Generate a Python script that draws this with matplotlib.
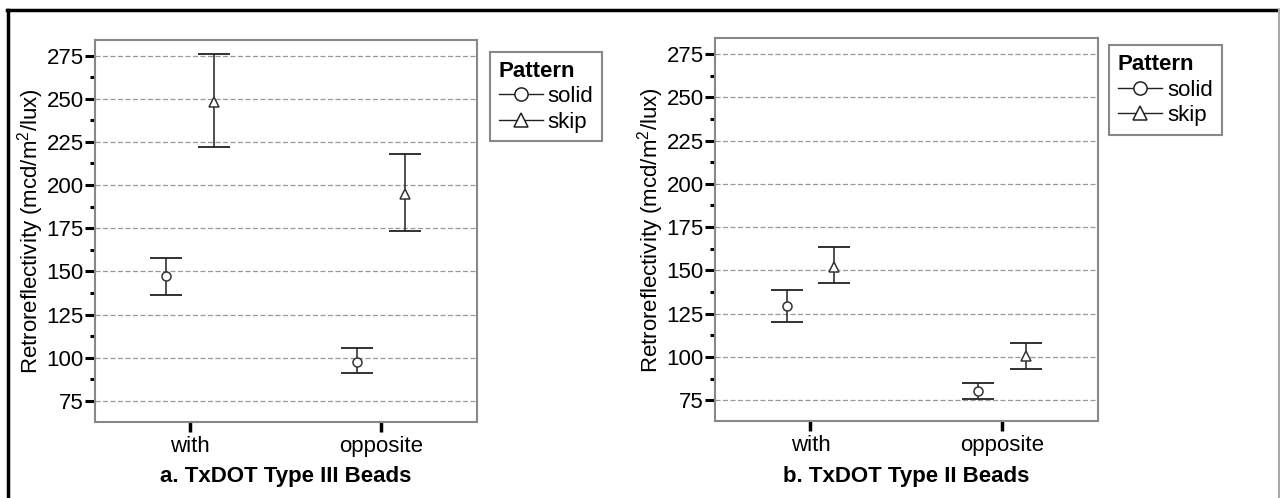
import matplotlib
matplotlib.use('Agg')
import matplotlib.pyplot as plt
import numpy as np
from matplotlib.lines import Line2D
from matplotlib.ticker import MultipleLocator

plt.rcParams['font.family'] = ['Liberation Sans', 'DejaVu Sans']
plt.rcParams['mathtext.fontset'] = 'custom'
plt.rcParams['mathtext.rm'] = 'Liberation Sans'
plt.rcParams['mathtext.default'] = 'regular'

categories = ['with', 'opposite']
patterns = ['solid', 'skip']

# panel a: TxDOT Type III beads (mean, lower, upper)
a_solid_mean = [147.1, 97.8]
a_solid_lo = [136.5, 91.3]
a_solid_hi = [157.8, 105.8]
a_skip_mean = [248.3, 194.8]
a_skip_lo = [221.8, 173.4]
a_skip_hi = [275.8, 217.9]

# panel b: TxDOT Type II beads
b_solid_mean = [129.5, 80.4]
b_solid_lo = [120.3, 75.7]
b_solid_hi = [138.8, 85.0]
b_skip_mean = [152.1, 100.4]
b_skip_lo = [142.5, 93.3]
b_skip_hi = [163.3, 108.1]

panels = [
    ('a. TxDOT Type III Beads',
     [(a_solid_mean, a_solid_lo, a_solid_hi), (a_skip_mean, a_skip_lo, a_skip_hi)],
     [0.074, 0.1532, 0.2984, 0.7665], (1.035, 0.969)),
    ('b. TxDOT Type II Beads',
     [(b_solid_mean, b_solid_lo, b_solid_hi), (b_skip_mean, b_skip_lo, b_skip_hi)],
     [0.5584, 0.1546, 0.2991, 0.7684], (1.03, 0.982)),
]
markers = ['o', '^']
offsets = [-0.125, 0.125]
fs = 16

fig = plt.figure(figsize=(12.8, 4.98), dpi=100)

for title, series, rect, leg_pos in panels:
    ax = fig.add_axes(rect)
    x = np.arange(len(categories))
    handles = []
    for (mean, lo, hi), m, off, name in zip(series, markers, offsets, patterns):
        mean = np.array(mean)
        err = [mean - np.array(lo), np.array(hi) - mean]
        ax.errorbar(x + off, mean, yerr=err, fmt='none', ecolor='#222222',
                    elinewidth=1.1, capsize=11.5, capthick=1.3, zorder=3)
        ax.plot(x + off, mean, linestyle='none', marker=m, ms=6.5 if m == 'o' else 7,
                mfc='white', mec='#333333', mew=1.1, zorder=4)
        handles.append(Line2D([], [], color='#222222', lw=1, marker=m, ms=9.5,
                              mfc='white', mec='#222222', mew=1.1, label=name))
    ax.set_xlim(-0.5, 1.5)
    ax.set_ylim(63, 284)
    ax.set_xticks(x)
    ax.set_xticklabels(categories, fontsize=fs)
    ax.yaxis.set_major_locator(MultipleLocator(25))
    ax.yaxis.set_minor_locator(MultipleLocator(12.5))
    ax.set_yticks(np.arange(75, 276, 25))
    ax.tick_params(axis='y', which='major', length=7, width=2.2, labelsize=fs, pad=1, color='black')
    ax.tick_params(axis='y', which='minor', length=3.5, width=2.2, color='black')
    ax.tick_params(axis='x', which='major', length=7, width=2.5, labelsize=fs, pad=3, color='black')
    ax.yaxis.grid(True, which='major', linestyle=(0, (4, 2)), color='#999999', lw=0.9)
    ax.set_axisbelow(True)
    for s in ax.spines.values():
        s.set_color('#888888')
        s.set_linewidth(1.5)
    ax.set_ylabel('Retroreflectivity (mcd/m$^{2}$/lux)', fontsize=fs, labelpad=0)
    ax.set_xlabel(title, fontsize=fs, fontweight='bold', labelpad=7)
    leg = ax.legend(handles=handles, title='Pattern', loc='upper left',
                    bbox_to_anchor=leg_pos, fontsize=fs, handlelength=2.0,
                    handletextpad=0.2, borderpad=0.4, labelspacing=0.2,
                    fancybox=False, edgecolor='#888888', framealpha=1,
                    borderaxespad=0)
    leg.get_title().set_fontweight('bold')
    leg.get_title().set_fontsize(fs)
    leg._legend_box.align = 'left'
    leg.get_frame().set_linewidth(1.5)

# outer border
fig.add_artist(Line2D([0.0055, 0.999], [0.98, 0.98], color='black', lw=2.5))
fig.add_artist(Line2D([0.0062, 0.0062], [0.0, 0.98], color='black', lw=2.5))
fig.add_artist(Line2D([0.9992, 0.9992], [0.0, 0.98], color='#aaaaaa', lw=1.5))

fig.savefig('out.png', dpi=100)
